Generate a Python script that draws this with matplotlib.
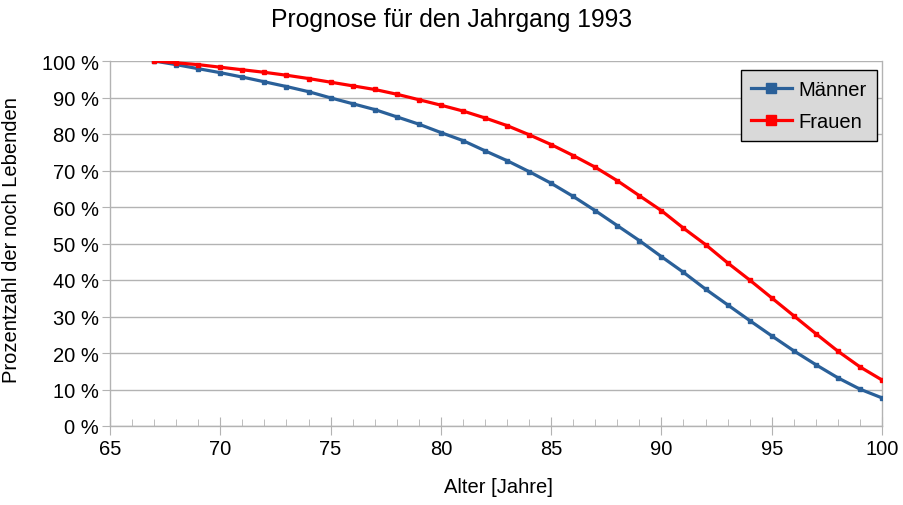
import matplotlib
matplotlib.use("Agg")
import matplotlib.pyplot as plt
from matplotlib.ticker import MultipleLocator, FuncFormatter

plt.rcParams['font.family'] = ['Liberation Sans', 'DejaVu Sans']

ages = list(range(67, 101))
maenner = [100.0, 99.0, 97.9, 96.8, 95.6, 94.3, 93.0, 91.6, 89.9, 88.3, 86.7, 84.7, 82.7,
           80.4, 78.2, 75.4, 72.7, 69.7, 66.5, 62.9, 59.0, 54.9, 50.8, 46.4,
           42.1, 37.5, 33.2, 28.9, 24.7, 20.6, 16.8, 13.2, 10.1, 7.7]
frauen = [100.0, 99.5, 99.0, 98.3, 97.6, 96.9, 96.1, 95.2, 94.2, 93.2, 92.2, 90.9, 89.4,
          87.9, 86.3, 84.4, 82.3, 79.8, 77.1, 74.1, 70.9, 67.2, 63.1, 59.0,
          54.2, 49.7, 44.7, 40.0, 35.1, 30.2, 25.3, 20.5, 16.2, 12.6]

title = "Prognose für den Jahrgang 1993"
xlabel = "Alter [Jahre]"
ylabel = "Prozentzahl der noch Lebenden"

fig = plt.figure(figsize=(9.04, 5.06), dpi=100)
ax = fig.add_axes([110/904, 1-427/506, (882-110)/904, (427-62)/506])

grid_c = '#b3b3b3'
ax.plot(ages, maenner, color='#2a6099', lw=2.3, marker='s', ms=2.8, label='Männer', zorder=3)
ax.plot(ages, frauen, color='#ff0000', lw=2.3, marker='s', ms=2.8, label='Frauen', zorder=3)

ax.set_xlim(65, 100)
ax.set_ylim(0, 100)
ax.xaxis.set_major_locator(MultipleLocator(5))
ax.xaxis.set_minor_locator(MultipleLocator(1))
ax.yaxis.set_major_locator(MultipleLocator(10))
ax.yaxis.set_major_formatter(FuncFormatter(lambda v, p: f"{int(round(v))} %"))
ax.grid(axis='y', color=grid_c, lw=1)
ax.set_axisbelow(True)

ax.spines['top'].set_visible(False)
for s in ['left', 'bottom', 'right']:
    ax.spines[s].set_color(grid_c)
    ax.spines[s].set_linewidth(1)

ax.tick_params(axis='x', which='major', direction='inout', length=13, color=grid_c, labelsize=14.5, pad=3)
ax.tick_params(axis='x', which='minor', direction='in', length=5, color=grid_c)
ax.tick_params(axis='y', which='major', direction='out', length=6, color=grid_c, labelsize=14.5, pad=2)
ax.tick_params(axis='y', which='minor', left=False)

fig.text(0.5, 1 - 20/506, title, fontsize=17.8, ha='center', va='center')
fig.text(498/904, 1 - 488/506, xlabel, fontsize=14.5, ha='center', va='center')
fig.text(12/904, 1 - 240/506, ylabel, fontsize=14.5, ha='center', va='center', rotation=90)

leg = ax.legend(loc='upper right', bbox_to_anchor=((877-110)/772, (427-71)/365), fontsize=14.5,
                frameon=True, fancybox=False, edgecolor='black', facecolor='#d9d9d9', framealpha=1,
                markerscale=2.6, handlelength=2.0, handletextpad=0.35, borderpad=0.5,
                labelspacing=0.65, borderaxespad=0)
leg.get_frame().set_linewidth(1)

fig.savefig('out.png', dpi=100)
